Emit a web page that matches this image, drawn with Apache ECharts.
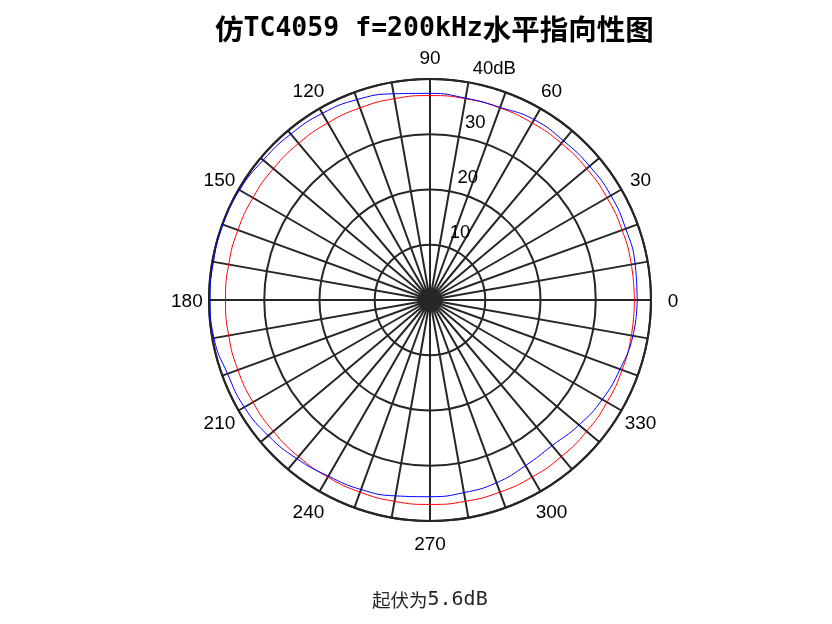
<!DOCTYPE html>
<html lang="zh">
<head>
    <meta charset="UTF-8">
    <title>仿TC4059 水平指向性图</title>
    <script src="https://cdn.jsdelivr.net/npm/echarts@6/dist/echarts.min.js"></script>
    <style>
        html, body { margin: 0; padding: 0; background: #fff; }
    </style>
</head>
<body>
<div id="polarDemo" style="width: 832px;height: 624px"></div>

<script>
    // angles in degrees, levels in dB
    var angles = [0, 10, 20, 30, 40, 50, 60, 70, 80, 90, 100, 110, 120, 130, 140, 150, 160, 170, 180,
        190, 200, 210, 220, 230, 240, 250, 260, 270, 280, 290, 300, 310, 320, 330, 340, 350, 360];
    var measured = [37.5, 37.7, 37.7, 37.8, 37.7, 37.6, 37.7, 37.1, 37.1, 37.4, 37.9, 38.6, 39.0, 39.2, 39.4, 39.8, 39.9, 39.8, 39.8,
        39.7, 39.0, 38.8, 38.2, 37.5, 36.8, 36.5, 36.0, 35.6, 35.4, 35.2, 34.6, 34.4, 35.2, 36.0, 36.6, 37.3, 37.5];
    var reference = [37, 37, 37, 37, 37, 37, 37, 37, 37, 37, 37, 37, 37, 37, 37, 37, 37, 37, 37,
        37, 37, 37, 37, 37, 37, 37, 37, 37, 37, 37, 37, 37, 37, 37, 37, 37, 37];
    var radiusTicks = [10, 20, 30, 40];
    var radiusLabels = ['10', '20', '30', '40dB'];
    var angleTicks = [0, 30, 60, 90, 120, 150, 180, 210, 240, 270, 300, 330];
    var angleLabels = ['0', '30', '60', '90', '120', '150', '180', '210', '240', '270', '300', '330'];
    var ringLabelAngle = 82;
    var angleLabelRadius = 44;  // 1.1 x outer ring

    var chartDom = document.getElementById('polarDemo');
    var myChart = echarts.init(chartDom);
    var option;

    function pairs(vals) {
        return vals.map(function (v, i) { return [v, angles[i]]; });
    }

    var gridColor = '#262626';
    var textFont = 'Liberation Sans, Arial';

    option = {
        animation: false,
        title: [
            {
                text: '{c|仿}{a|TC4059 f=200kHz}{c|水平指向性图}',
                left: 210,
                top: 6,
                textStyle: {
                    fontWeight: 'bold',
                    rich: {
                        c: { fontFamily: 'Noto Sans CJK SC', fontSize: 28.5, fontWeight: 'bold', color: '#000',
                            lineHeight: 36, verticalAlign: 'middle' },
                        a: { fontFamily: 'DejaVu Sans Mono', fontSize: 26.5, fontWeight: 'bold', color: '#000',
                            lineHeight: 36, verticalAlign: 'middle' }
                    }
                }
            },
            {
                text: '{c|起伏为}{a|5.6dB}',
                left: 367,
                top: 582,
                textStyle: {
                    fontWeight: 'normal',
                    rich: {
                        c: { fontFamily: 'Noto Sans CJK SC', fontSize: 18.5, fontWeight: 'normal', color: '#262626',
                            lineHeight: 26, verticalAlign: 'middle' },
                        a: { fontFamily: 'DejaVu Sans Mono', fontSize: 20, fontWeight: 'normal', color: '#262626',
                            lineHeight: 26, verticalAlign: 'middle' }
                    }
                }
            }
        ],
        polar: {
            center: [430, 300],
            radius: 221
        },
        angleAxis: {
            type: 'value',
            min: 0,
            max: 360,
            interval: 10,
            startAngle: 0,
            clockwise: false,
            axisLine: { lineStyle: { color: gridColor, width: 2 } },
            axisTick: { show: false },
            axisLabel: { show: false },
            splitLine: { show: true, lineStyle: { color: gridColor, width: 2 } }
        },
        radiusAxis: {
            type: 'value',
            min: 0,
            max: 40,
            interval: 10,
            axisLine: { show: false },
            axisTick: { show: false },
            axisLabel: { show: false },
            splitLine: { show: true, lineStyle: { color: gridColor, width: 2 } }
        },
        series: [
            {
                name: 'measured',
                type: 'line',
                coordinateSystem: 'polar',
                smooth: true,
                symbol: 'none',
                lineStyle: { color: '#0000ff', width: 1 },
                data: pairs(measured),
                z: 5
            },
            {
                name: 'reference',
                type: 'line',
                coordinateSystem: 'polar',
                smooth: true,
                symbol: 'none',
                lineStyle: { color: '#ff0000', width: 1 },
                data: pairs(reference),
                z: 4
            },
            {
                name: 'ringLabels',
                type: 'scatter',
                coordinateSystem: 'polar',
                symbolSize: 0,
                silent: true,
                clip: false,
                itemStyle: { opacity: 1 },
                data: radiusTicks.map(function (r, i) { return { value: [r, ringLabelAngle], name: radiusLabels[i] }; }),
                label: {
                    show: true,
                    position: 'inside',
                    align: 'left',
                    verticalAlign: 'middle',
                    offset: [12, -12.5],
                    fontSize: 18.5,
                    fontFamily: textFont,
                    color: '#000',
                    formatter: function (p) { return p.name; }
                },
                z: 6
            },
            {
                name: 'angleLabels',
                type: 'scatter',
                coordinateSystem: 'polar',
                symbolSize: 0,
                silent: true,
                clip: false,
                itemStyle: { opacity: 1 },
                data: angleTicks.map(function (a, i) { return { value: [angleLabelRadius, a], name: angleLabels[i] }; }),
                label: {
                    show: true,
                    position: 'inside',
                    align: 'center',
                    verticalAlign: 'middle',
                    offset: [0, 2],
                    fontSize: 19,
                    fontFamily: textFont,
                    color: '#000',
                    formatter: function (p) { return p.name; }
                },
                z: 6
            }
        ]
    };

    option && myChart.setOption(option);
</script>
</body>
</html>
